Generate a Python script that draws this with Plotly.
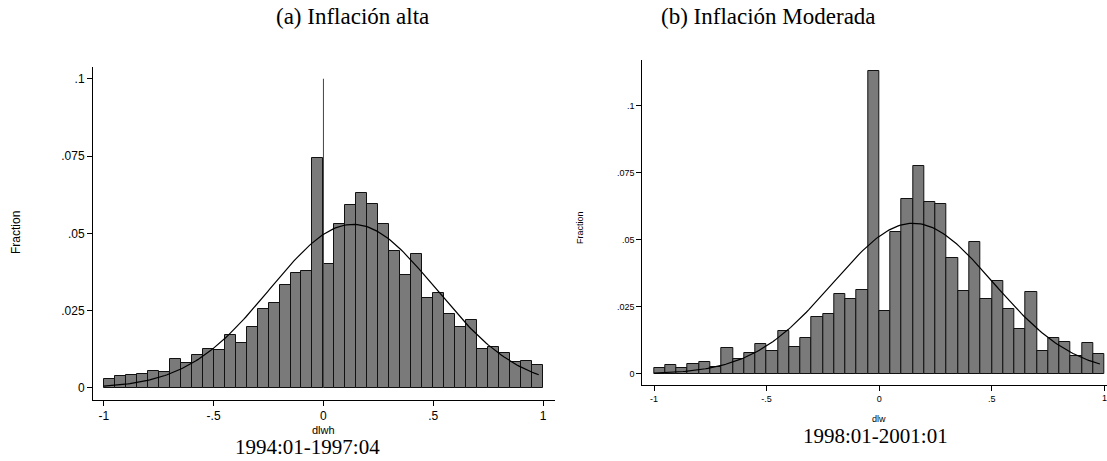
import numpy as np
import plotly.graph_objects as go

# ---------------- data ----------------
bin_width = 0.05
bin_left_edges = [round(-1 + i * bin_width, 2) for i in range(40)]

# (a) Inflación alta, 1994:01-1997:04  (variable dlwh)
frac_alta = [0.0029, 0.0038, 0.0041, 0.0045, 0.0054, 0.0051, 0.0093, 0.0081, 0.0108, 0.0127,
             0.0122, 0.0172, 0.0146, 0.0198, 0.0255, 0.0274, 0.0332, 0.0373, 0.0377, 0.0743,
             0.0400, 0.0529, 0.0593, 0.0629, 0.0595, 0.0529, 0.0442, 0.0364, 0.0432, 0.0290,
             0.0306, 0.0240, 0.0198, 0.0219, 0.0127, 0.0131, 0.0112, 0.0085, 0.0087, 0.0075]
spike_alta_x = [0, 0]
spike_alta_y = [0, 0.1]
normal_alta_mean = 0.134
normal_alta_sd = 0.377
normal_alta_xrange = [-1.0, 0.98]

# (b) Inflación Moderada, 1998:01-2001:01  (variable dlw)
frac_mod = [0.0021, 0.0033, 0.0021, 0.0036, 0.0043, 0.0026, 0.0097, 0.0054, 0.0077, 0.0110,
            0.0087, 0.0160, 0.0099, 0.0133, 0.0213, 0.0222, 0.0297, 0.0280, 0.0313, 0.1131,
            0.0235, 0.0529, 0.0651, 0.0775, 0.0643, 0.0635, 0.0431, 0.0308, 0.0491, 0.0278,
            0.0346, 0.0241, 0.0167, 0.0304, 0.0084, 0.0135, 0.0120, 0.0067, 0.0115, 0.0073]
normal_mod_mean = 0.151
normal_mod_sd = 0.355
normal_mod_xrange = [-1.0, 0.98]

y_tickvals = [0, 0.025, 0.05, 0.075, 0.1]
y_ticktext = ["0", ".025", ".05", ".075", ".1"]
x_tickvals = [-1, -0.5, 0, 0.5, 1]
x_ticktext = ["-1", "-.5", "0", ".5", "1"]

titles = ["(a) Inflación alta", "(b) Inflación Moderada"]
x_titles = ["dlwh", "dlw"]
y_title = "Fraction"
captions = ["1994:01-1997:04", "1998:01-2001:01"]

# ---------------- figure ----------------
W, H = 1107, 461
BAR_FILL = "#7a7a7a"
SANS = "Liberation Sans, Arial, sans-serif"
SERIF = "Liberation Serif, Times New Roman, serif"

bin_centers = [e + bin_width / 2 for e in bin_left_edges]


def normal_curve(mean, sd, xr):
    xs = np.linspace(xr[0], xr[1], 200)
    ys = bin_width * np.exp(-0.5 * ((xs - mean) / sd) ** 2) / (sd * np.sqrt(2 * np.pi))
    return xs, ys


fig = go.Figure()

# left panel
fig.add_trace(go.Bar(x=bin_centers, y=frac_alta, width=bin_width,
                     marker=dict(color=BAR_FILL, line=dict(color="#111111", width=1)),
                     xaxis="x", yaxis="y", showlegend=False))
fig.add_trace(go.Scatter(x=spike_alta_x, y=spike_alta_y, mode="lines",
                         line=dict(color="#444444", width=1), xaxis="x", yaxis="y", showlegend=False))
xs, ys = normal_curve(normal_alta_mean, normal_alta_sd, normal_alta_xrange)
fig.add_trace(go.Scatter(x=xs, y=ys, mode="lines", line=dict(color="black", width=1.2),
                         xaxis="x", yaxis="y", showlegend=False))

# right panel
fig.add_trace(go.Bar(x=bin_centers, y=frac_mod, width=bin_width,
                     marker=dict(color=BAR_FILL, line=dict(color="#111111", width=1)),
                     xaxis="x2", yaxis="y2", showlegend=False))
xs, ys = normal_curve(normal_mod_mean, normal_mod_sd, normal_mod_xrange)
fig.add_trace(go.Scatter(x=xs, y=ys, mode="lines", line=dict(color="black", width=1.2),
                         xaxis="x2", yaxis="y2", showlegend=False))


def px_x(p):
    return min(1.0, p / W)


def px_y(p):
    return (H - p) / H


def axis_common(size):
    return dict(showline=True, linecolor="black", linewidth=1, ticks="outside", ticklen=5,
                tickcolor="black", tickwidth=1, showgrid=False, zeroline=False,
                tickfont=dict(family=SANS, size=size, color="black"), fixedrange=True)


# the right panel's last tick label sits at the page edge; it is written as an
# annotation at the same tick value so that it is never dropped
x_ticktext_right = x_ticktext[:-1] + [""]

fig.update_layout(
    width=W, height=H, margin=dict(l=0, r=0, t=0, b=0),
    paper_bgcolor="white", plot_bgcolor="white", bargap=0,
    xaxis=dict(domain=[px_x(93), px_x(555)], range=[-1.049, 1.054], anchor="y",
               tickvals=x_tickvals, ticktext=x_ticktext, **axis_common(12)),
    yaxis=dict(domain=[px_y(400), px_y(67)], range=[-0.0039, 0.1038], anchor="x",
               tickvals=y_tickvals, ticktext=y_ticktext, **axis_common(12)),
    xaxis2=dict(domain=[px_x(642.3), 1.0], range=[-1.052, 1.0115], anchor="y2",
                tickvals=x_tickvals, ticktext=x_ticktext_right, **axis_common(9)),
    yaxis2=dict(domain=[px_y(384.7), px_y(60)], range=[-0.00403, 0.1171], anchor="x2",
                tickvals=y_tickvals, ticktext=y_ticktext, **axis_common(9)),
)

ann = []
# titles
ann.append(dict(text=titles[0], x=px_x(352), y=px_y(16), xref="paper", yref="paper",
                showarrow=False, font=dict(family=SERIF, size=23, color="black"),
                xanchor="center", yanchor="middle"))
ann.append(dict(text=titles[1], x=px_x(768), y=px_y(16), xref="paper", yref="paper",
                showarrow=False, font=dict(family=SERIF, size=23, color="black"),
                xanchor="center", yanchor="middle"))
# last tick label of the right panel
ann.append(dict(text=x_ticktext[-1], x=x_tickvals[-1], xref="x2", y=px_y(398), yref="paper",
                showarrow=False, font=dict(family=SANS, size=9, color="black"),
                xanchor="center", yanchor="middle"))
# axis titles
ann.append(dict(text=x_titles[0], x=px_x(323.5), y=px_y(430), xref="paper", yref="paper",
                showarrow=False, font=dict(family=SANS, size=11, color="black"),
                xanchor="center", yanchor="middle"))
ann.append(dict(text=x_titles[1], x=px_x(879), y=px_y(419), xref="paper", yref="paper",
                showarrow=False, font=dict(family=SANS, size=9, color="black"),
                xanchor="center", yanchor="middle"))
ann.append(dict(text=y_title, x=px_x(16), y=px_y(233), xref="paper", yref="paper",
                showarrow=False, textangle=-90, font=dict(family=SANS, size=12, color="black"),
                xanchor="center", yanchor="middle"))
ann.append(dict(text=y_title, x=px_x(580), y=px_y(228), xref="paper", yref="paper",
                showarrow=False, textangle=-90, font=dict(family=SANS, size=9, color="black"),
                xanchor="center", yanchor="middle"))
# captions
ann.append(dict(text=captions[0], x=px_x(307), y=px_y(447), xref="paper", yref="paper",
                showarrow=False, font=dict(family=SERIF, size=21, color="black"),
                xanchor="center", yanchor="middle"))
ann.append(dict(text=captions[1], x=px_x(875), y=px_y(436), xref="paper", yref="paper",
                showarrow=False, font=dict(family=SERIF, size=21, color="black"),
                xanchor="center", yanchor="middle"))
fig.update_layout(annotations=ann)

# remove the page's default body margin so the figure fills the window exactly
fig.write_html("out.html", config={"displayModeBar": False},
               post_script="document.body.style.margin='0';document.body.style.overflow='hidden';")
